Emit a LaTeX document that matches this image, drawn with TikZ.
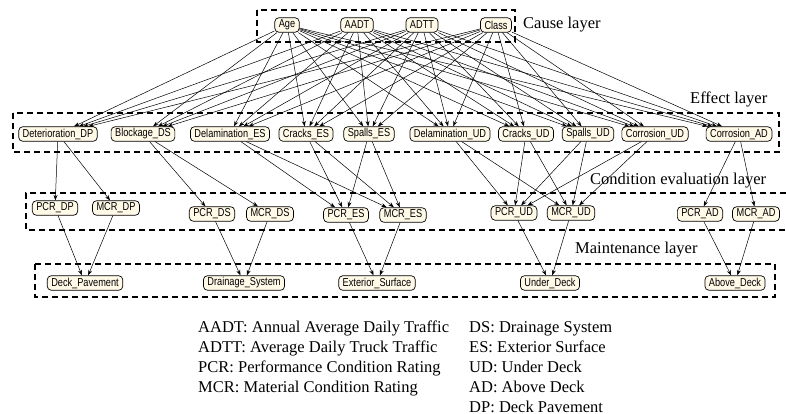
\documentclass[tikz,border=0pt]{standalone}
\usepackage{fontspec}
\setmainfont{Liberation Serif}
\newfontfamily\nodefont[FakeStretch=0.8]{Liberation Sans}
\usetikzlibrary{arrows.meta}
\definecolor{nodefill}{RGB}{255,249,232}
\begin{document}
\begin{tikzpicture}[x=1pt,y=-1pt,
  bn/.style={draw, line width=0.7pt, rounded corners=4pt, fill=nodefill,
    font=\nodefont\fontsize{11.5}{12}\selectfont, inner xsep=4pt, inner ysep=0pt,
    minimum height=14.5pt},
  layerbox/.style={line width=1.1pt, dash pattern=on 6pt off 4pt},
  lbl/.style={font=\fontsize{16.5}{18}\selectfont, anchor=base west, inner sep=0pt},
  arr/.style={-{Stealth[length=5.5pt,width=4pt]}, line width=0.5pt}]
\useasboundingbox (0,0) rectangle (786,414);

% layer boxes
\draw[layerbox] (257,10) rectangle (515,42);
\draw[layerbox] (13,113) rectangle (779,152);
\draw[layerbox] (786,193) -- (26,193) -- (26,230) -- (786,230);
\draw[layerbox] (35,264) rectangle (775,297);

% layer labels
\node[lbl] (tcause) at (523,29) {Cause layer};
\node[lbl] (teffect) at (690,104) {Effect layer};
\node[lbl] (tcond) at (590,184) {Condition evaluation layer};
\node[lbl] (tmaint) at (575,253) {Maintenance layer};

% cause layer
\node[bn] (age) at (287,25) {Age};
\node[bn] (aadt) at (357,25) {AADT};
\node[bn] (adtt) at (422,25) {ADTT};
\node[bn] (class) at (496,25) {Class};

% effect layer
\node[bn] (detDP) at (58,134) {Deterioration\_DP};
\node[bn] (blkDS) at (143,134) {Blockage\_DS};
\node[bn] (delES) at (230,134) {Delamination\_ES};
\node[bn] (crkES) at (306,134) {Cracks\_ES};
\node[bn] (splES) at (369,134) {Spalls\_ES};
\node[bn] (delUD) at (450,134) {Delamination\_UD};
\node[bn] (crkUD) at (526,134) {Cracks\_UD};
\node[bn] (splUD) at (588,134) {Spalls\_UD};
\node[bn] (corUD) at (655,134) {Corrosion\_UD};
\node[bn] (corAD) at (739,134) {Corrosion\_AD};

% condition evaluation layer
\node[bn] (pcrDP) at (55,208) {PCR\_DP};
\node[bn] (mcrDP) at (116,208) {MCR\_DP};
\node[bn] (pcrDS) at (212,214) {PCR\_DS};
\node[bn] (mcrDS) at (270,214) {MCR\_DS};
\node[bn] (pcrES) at (346,215) {PCR\_ES};
\node[bn] (mcrES) at (403,215) {MCR\_ES};
\node[bn] (pcrUD) at (514,213) {PCR\_UD};
\node[bn] (mcrUD) at (571,213) {MCR\_UD};
\node[bn] (pcrAD) at (700,214) {PCR\_AD};
\node[bn] (mcrAD) at (756,214) {MCR\_AD};

% maintenance layer
\node[bn] (mDP) at (85,283) {Deck\_Pavement};
\node[bn] (mDS) at (244,283) {Drainage\_System};
\node[bn] (mES) at (377,283) {Exterior\_Surface};
\node[bn] (mUD) at (550,283) {Under\_Deck};
\node[bn] (mAD) at (735,283) {Above\_Deck};

% cause -> effect
\foreach \c in {age,aadt,adtt,class}
  \foreach \e in {detDP,blkDS,delES,crkES,splES,delUD,crkUD,splUD,corUD,corAD}
    \draw[arr] (\c) -- (\e);

% effect -> condition
\foreach \e/\t in {detDP/DP,blkDS/DS,delES/ES,crkES/ES,splES/ES,delUD/UD,crkUD/UD,splUD/UD,corUD/UD,corAD/AD}
  {\draw[arr] (\e) -- (pcr\t); \draw[arr] (\e) -- (mcr\t);}

% condition -> maintenance
\foreach \t in {DP,DS,ES,UD,AD}
  {\draw[arr] (pcr\t) -- (m\t); \draw[arr] (mcr\t) -- (m\t);}

% legend
\node[lbl] (l1) at (198,332) {AADT: Annual Average Daily Traffic};
\node[lbl] (l2) at (198,352) {ADTT: Average Daily Truck Traffic};
\node[lbl] (l3) at (198,372) {PCR: Performance Condition Rating};
\node[lbl] (l4) at (198,392) {MCR: Material Condition Rating};
\node[lbl] (r1) at (469,332) {DS: Drainage System};
\node[lbl] (r2) at (469,352) {ES: Exterior Surface};
\node[lbl] (r3) at (469,372) {UD: Under Deck};
\node[lbl] (r4) at (469,392) {AD: Above Deck};
\node[lbl] (r5) at (469,412) {DP: Deck Pavement};
\end{tikzpicture}
\end{document}
